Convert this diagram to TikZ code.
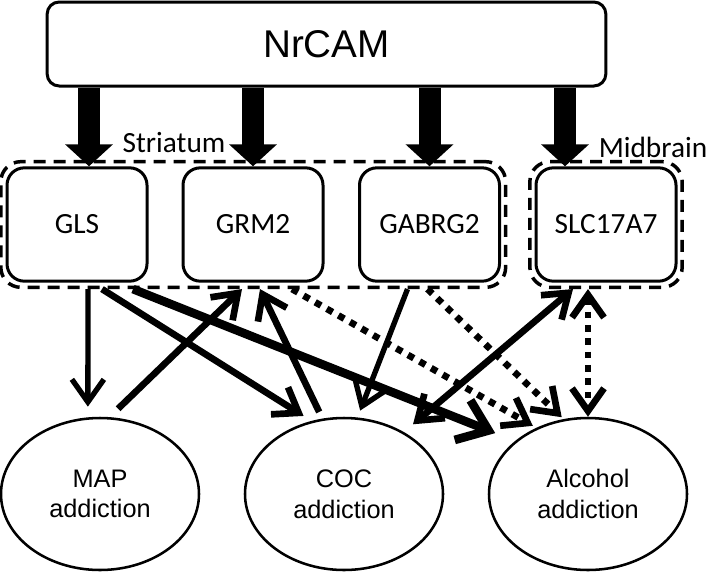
\documentclass[tikz,border=0pt]{standalone}
\usepackage{fontspec}
\setmainfont{Liberation Sans}
\newfontfamily\calibri{Carlito}
\usetikzlibrary{arrows.meta,shapes.geometric,fit,calc}

\begin{document}
\begin{tikzpicture}[x=0.75pt, y=-0.75pt,
  >={Straight Barb[length=17pt,width=24pt]},
  topbox/.style={draw, line width=2.25pt, rounded corners=9pt, minimum width=419pt, minimum height=63pt, inner sep=0pt, font=\fontsize{29}{34}\selectfont},
  genebox/.style={draw, line width=2.25pt, rounded corners=13pt, minimum width=105pt, minimum height=85pt, inner sep=0pt, font=\fontsize{22}{26}\selectfont\calibri},
  regionbox/.style={draw, dash pattern=on 9pt off 6pt, line width=2.6pt, rounded corners=15pt, inner sep=3.5pt},
  regionlabel/.style={anchor=base, inner sep=0pt, font=\fontsize{22}{26}\selectfont\calibri},
  addbox/.style={draw, ellipse, line width=1.9pt, minimum width=148.5pt, minimum height=114pt, inner sep=0pt, align=center, font=\fontsize{19}{23}\selectfont},
  blockarrow/.style={line width=16.5pt, -{Triangle[length=16.5pt,width=35pt]}},
  medium/.style={line width=5pt},
  dots/.style={line width=5pt, dash pattern=on 5pt off 5pt}]

\useasboundingbox (0,0) rectangle (709,571);

%%%%%%%%%%%%%%%%%%%%%%%%%%%%%%%%%%%%%%%%%%%%%%%%%%%%%%%%%%%%%%%%
% NrCAM and genes
%%%%%%%%%%%%%%%%%%%%%%%%%%%%%%%%%%%%%%%%%%%%%%%%%%%%%%%%%%%%%%%%

\node[topbox] (nrcam) at (326.5,44) {NrCAM};

\node[genebox] (gls) at (77,224.5) {GLS};
\node[genebox] (grm2) at (253,224.5) {GRM2};
\node[genebox] (gabrg2) at (429.5,224.5) {GABRG2};
\node[genebox] (slc) at (606,224.5) {SLC17A7};

% Regions
\node[regionbox, fit=(gls)(gabrg2)] (striatum) {};
\node[regionbox, fit=(slc)] (midbrain) {};
\node[regionlabel] (striatumlbl) at (174,152) {Striatum};
\node[regionlabel] (midbrainlbl) at (653,157) {Midbrain};

% Block arrows
\draw[blockarrow] ([xshift=9pt]gls.north |- nrcam.south) -- ([xshift=9pt]gls.north);
\draw[blockarrow] (grm2.north |- nrcam.south) -- (grm2.north);
\draw[blockarrow] (gabrg2.north |- nrcam.south) -- (gabrg2.north);
\draw[blockarrow] ([xshift=-30.75pt]slc.north |- nrcam.south) -- ([xshift=-30.75pt]slc.north);

%%%%%%%%%%%%%%%%%%%%%%%%%%%%%%%%%%%%%%%%%%%%%%%%%%%%%%%%%%%%%%%%
% Addictions
%%%%%%%%%%%%%%%%%%%%%%%%%%%%%%%%%%%%%%%%%%%%%%%%%%%%%%%%%%%%%%%%

\node[addbox] (map) at (100,494) {MAP\\addiction};
\node[addbox] (coc) at (344,494) {COC\\addiction};
\node[addbox] (alc) at (588,494) {Alcohol\\addiction};

% Edges
\draw[->, line width=4pt, shorten >=8pt] ($(gls.south |- striatum.south)+(11,0)$) -- (map.99);
\draw[->, medium, shorten >=7pt] ($(gls.south |- striatum.south)+(25,0)$) -- (coc.114);
\draw[-{Straight Barb[length=21pt,width=32pt]}, line width=6.5pt, shorten >=16pt] ($(gls.south |- striatum.south)+(56,0)$) -- (alc.144);

\draw[->, medium, shorten <=9pt] (map.83) -- ($(grm2.south |- striatum.south)+(-11,0)$);
\draw[->, medium, shorten <=5.5pt] (coc.106) -- ($(grm2.south |- striatum.south)+(7,0)$);
\draw[->, dots, shorten >=3pt] ($(grm2.south |- striatum.south)+(39,0)$) -- (alc.128);

\draw[->, line width=4pt, shorten >=5.5pt] ($(gabrg2.south |- striatum.south)+(-22,0)$) -- (coc.80);
\draw[->, dots, shorten >=2pt] ($(gabrg2.south |- striatum.south)+(-2,0)$) -- (alc.108);

\draw[<->, medium, shorten >=9pt] ($(slc.south |- midbrain.south)+(-33,0)$) -- (coc.46);
\draw[<->, dots] (alc.north |- midbrain.south) -- (alc.north);

\end{tikzpicture}
\end{document}
